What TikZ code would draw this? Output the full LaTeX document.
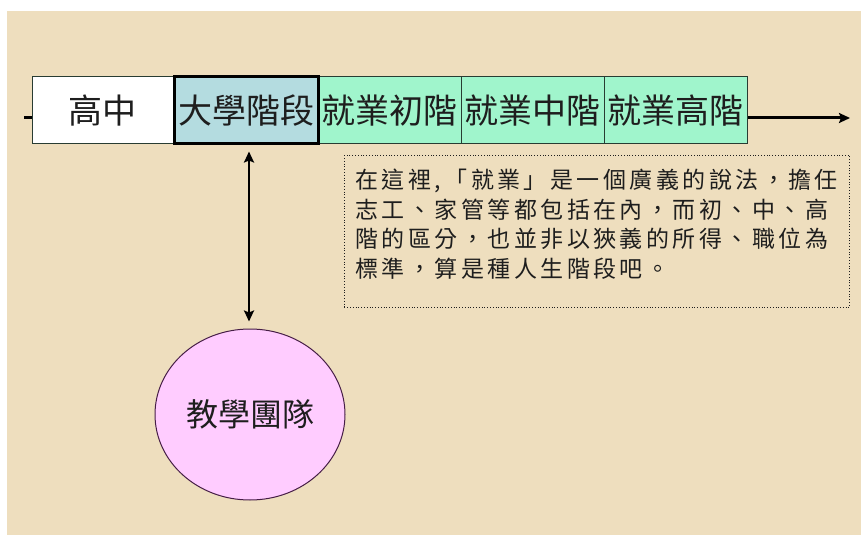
\documentclass[tikz,border=0pt]{standalone}
\usepackage{fontspec}
\setmainfont{Noto Sans CJK TC}
\newfontfamily\cjkbox{Noto Sans CJK TC}
\newfontfamily\cjknote[LetterSpace=15]{Noto Sans CJK TC}
\usetikzlibrary{shapes.geometric,arrows.meta}
\definecolor{parch}{RGB}{238,222,190}
\definecolor{unifill}{RGB}{180,220,224}
\definecolor{jobfill}{RGB}{160,245,204}
\definecolor{teamfill}{RGB}{255,204,255}
\definecolor{ink}{RGB}{30,30,30}
\definecolor{boxline}{RGB}{40,60,50}
\definecolor{teamline}{RGB}{70,30,70}
\begin{document}
\begin{tikzpicture}[x=1pt,y=-1pt,
  stage/.style={draw=boxline, line width=1pt, minimum width=143pt, minimum height=67pt,
    inner sep=0pt, font=\cjkbox\fontsize{34}{36}\selectfont, text=ink},
  hsbox/.style={stage, fill=white, minimum width=141pt},
  unibox/.style={stage, fill=unifill, draw=black, line width=3pt, minimum width=144pt},
  jobbox/.style={stage, fill=jobfill},
  teambox/.style={ellipse, draw=teamline, line width=1pt, fill=teamfill, minimum width=190pt,
    minimum height=171pt, inner sep=0pt, font=\cjkbox\fontsize{32}{34}\selectfont, text=ink},
  notebox/.style={draw=ink, dotted, line width=0.8pt, inner xsep=11pt, inner ysep=14pt,
    text width=483pt, align=left, font=\cjknote\fontsize{23}{29.5}\selectfont, text=ink},
  timeline/.style={draw=black, line width=3pt, -{Stealth[length=11pt,width=10pt,inset=2pt]}},
  link/.style={draw=black, line width=2.6pt, {Stealth[length=11pt,width=10pt,inset=2pt]}-{Stealth[length=11pt,width=10pt,inset=2pt]}}
]
\fill[white] (0,0) rectangle (861,537);
\useasboundingbox (0,0) rectangle (861,537);
\fill[parch] (7,11) rectangle (861,535);

\coordinate (tstart) at (24,118);
\coordinate (tend) at (850,118);
\draw[timeline] (tstart) -- (tend);

\node[hsbox] (hs) at (102.5,110.5) {高中};
\node[jobbox] (e1) at (389.5,110.5) {就業初階};
\node[jobbox] (e2) at (532.5,110.5) {就業中階};
\node[jobbox] (e3) at (675.5,110.5) {就業高階};
\node[unibox] (uni) at (246,110.5) {大學階段};

\node[teambox] (team) at (250,414.5) {教學團隊};
\draw[link, shorten <=6pt, shorten >=7pt] ([xshift=3pt]uni.south) -- ([xshift=-1pt]team.north);

\node[notebox, anchor=north west] (note) at (344,155)
  {在這裡,「就業」是一個廣義的說法，擔任\\志工、家管等都包括在內，而初、中、高\\階的區分，也並非以狹義的所得、職位為\\標準，算是種人生階段吧。\rule[-16pt]{0pt}{1pt}};
\end{tikzpicture}
\end{document}
